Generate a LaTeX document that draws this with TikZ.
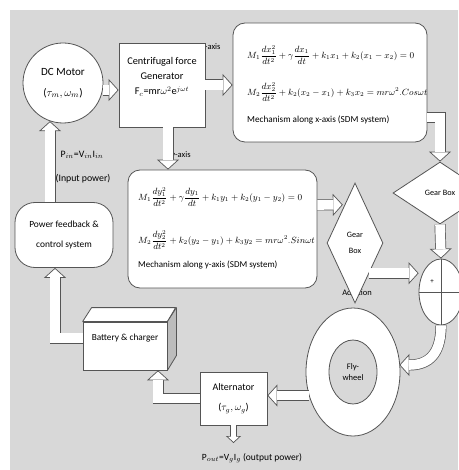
\documentclass[tikz,border=0pt]{standalone}
\usepackage{amsmath}
\usepackage{fontspec}
\setmainfont{Carlito}
\usetikzlibrary{arrows.meta,positioning,shapes.geometric,calc}
\definecolor{panel}{RGB}{216,216,216}
\definecolor{edge}{RGB}{85,85,85}
\definecolor{side}{RGB}{188,188,188}
\tikzset{
  blk/.style={draw=edge,fill=white,line width=0.8pt},
  lbl/.style={font=\fontsize{8.5}{10}\selectfont,inner sep=1pt},
  eqs/.style={font=\fontsize{8.8}{11}\selectfont,anchor=west,inner sep=0pt},
  captxt/.style={font=\fontsize{9.2}{11}\selectfont,anchor=west,inner sep=0pt},
  flow/.style={draw=edge,line width=11pt,
    -{Triangle[width=22pt 0 0,length=10pt 0 0,line width=0.7pt 0 0,fill=white]},
    postaction={draw=white,line width=9.6pt,-,shorten >=9.3pt}},
  thinflow/.style={draw=edge,line width=7pt,
    -{Triangle[width=15pt 0 0,length=7pt 0 0,line width=0.7pt 0 0,fill=white]},
    postaction={draw=white,line width=5.6pt,-,shorten >=6.4pt}},
}
\begin{document}
\begin{tikzpicture}[x=1pt,y=-1pt,every node/.style={font=\fontsize{9}{11}\selectfont}]
  \useasboundingbox (0,0) rectangle (458,470);
  \fill[panel] (10,10) rectangle (458,470);
  % labels that sit partly under the blocks
  \node[lbl] (xlbl) at (211,47) {x-axis};
  \node[lbl] (ylbl) at (181,155) {y-axis};
  \node[lbl] (addlbl) at (357,293) {Addition};
  % drive side
  \node[blk,circle,minimum size=80pt,align=center,font=\fontsize{11}{13}\selectfont]
    (motor) at (63,83) {DC Motor\\[8pt]($\tau_m,\omega_m$)};
  \node[blk,minimum width=86pt,minimum height=84pt] (gen) at (162,85) {};
  \node[align=center,font=\fontsize{10.3}{15}\selectfont] (gentxt) at (162,77)
    {Centrifugal force\\Generator\\F$_c$=mr$\omega^2$e$^{j\omega t}$};
  \node[blk,rounded corners=12pt,minimum width=194pt,minimum height=119pt] (xmech) at (330,82.5) {};
  \node[eqs] (xeq1) at (247,55)
    {$M_1\dfrac{dx_1^2}{dt^2}+\gamma\dfrac{dx_1}{dt}+k_1x_1+k_2(x_1-x_2)=0$};
  \node[eqs] (xeq2) at (247,92)
    {$M_2\dfrac{dx_2^2}{dt^2}+k_2(x_2-x_1)+k_3x_2=mr\omega^2.Cos\omega t$};
  \node[captxt] (xcap) at (247,120) {Mechanism along x-axis (SDM system)};
  \node[blk,rounded corners=12pt,minimum width=189pt,minimum height=118pt] (ymech) at (222.5,229) {};
  \node[eqs] (yeq1) at (138,197)
    {$M_1\dfrac{dy_1^2}{dt^2}+\gamma\dfrac{dy_1}{dt}+k_1y_1+k_2(y_1-y_2)=0$};
  \node[eqs] (yeq2) at (138,240)
    {$M_2\dfrac{dy_2^2}{dt^2}+k_2(y_2-y_1)+k_3y_2=mr\omega^2.Sin\omega t$};
  \node[captxt,font=\fontsize{9}{11}\selectfont] (ycap) at (138,265) {Mechanism along y-axis (SDM system)};
  \node[blk,diamond,minimum width=94pt,minimum height=62pt,font=\fontsize{8.2}{10}\selectfont]
    (gbr) at (440,193) {Gear Box};
  \node[blk,diamond,minimum width=56pt,minimum height=120pt,align=center,font=\fontsize{8.2}{10}\selectfont]
    (gbl) at (355,243) {Gear\\[6pt]Box};
  \node[blk,ellipse,minimum width=44pt,minimum height=66pt] (sum) at (441,292) {};
  \draw[edge,line width=0.8pt] (sum.west) -- (sum.east) (sum.north) -- (sum.south);
  \node[font=\fontsize{7}{8}\selectfont,inner sep=0pt] (plus) at (432,282) {+};
  % storage side
  \node[blk,ellipse,minimum width=94pt,minimum height=128pt] (fly) at (353,372) {};
  \node[draw=edge,fill=panel,line width=0.8pt,ellipse,minimum width=48pt,minimum height=64pt,
    align=center,font=\fontsize{8.5}{11}\selectfont] (hub) at (353,372) {Fly-\\wheel};
  \node[blk,minimum width=67pt,minimum height=53pt,align=center,font=\fontsize{10}{20}\selectfont]
    (alt) at (233.5,398.5) {Alternator\\($\tau_g,\omega_g$)};
  \node[blk,minimum width=84pt,minimum height=48pt,text depth=18pt,font=\fontsize{9.3}{11}\selectfont]
    (bat) at (125,346) {Battery \& charger};
  \filldraw[fill=white,draw=edge,line width=0.8pt,line join=round]
    (bat.north west) -- ++(9,-14) -- ++(84,0) -- (bat.north east) -- cycle;
  \filldraw[fill=side,draw=edge,line width=0.8pt,line join=round]
    (bat.north east) -- ++(9,-14) -- ++(0,48) -- (bat.south east) -- cycle;
  \node[blk,rounded corners=20pt,minimum width=98pt,minimum height=65pt,align=center,
    font=\fontsize{9.4}{20}\selectfont] (pwr) at (64,235) {Power feedback \&\\control system};
  % power labels
  \node[lbl,font=\fontsize{9.8}{11}\selectfont] (pin) at (82,155) {P$_{in}$=V$_{in}$I$_{in}$};
  \node[lbl,font=\fontsize{9.8}{11}\selectfont] (pinlbl) at (83,179) {(Input power)};
  \node[lbl,font=\fontsize{9.5}{10}\selectfont] (pout) at (252,458) {P$_{out}$=V$_g$I$_g$ (output power)};
  \coordinate (pinbase) at ($(pwr.north)+(-14,0)$);
  \coordinate (gdown) at ($(gen.south)+(6,0)$);
  \coordinate (poutend) at (233.5,443);
  % flow arrows
  \draw[flow] (motor.-10) -- (motor.-10 -| gen.west);
  \draw[flow] (gen.east) -- (gen.east -| xmech.west);
  \draw[flow] (gdown) -- (gdown |- ymech.north);
  \draw[flow] ($(xmech.east)+(0,35)$) -| (gbr.north);
  \draw[flow] ($(ymech.east)+(0,-24)$) -- ($(gbl.north west)+(2,-8)$);
  \draw[flow] (gbr.south) -- (sum.north);
  \draw[flow] (gbl.south east) -- (gbl.south east -| sum.west);
  \draw[flow] (sum.south) .. controls (441,358) and (425,365) .. ($(fly.east)+(-1,-7)$);
  \draw[flow] (fly.208) -- (fly.208 -| alt.east);
  \draw[flow] (alt.west) -| ($(bat.south)+(33,0)$);
  \draw[flow] ($(bat.west)+(0,-8)$) -| ($(pwr.south)+(-9,0)$);
  \draw[flow] (pinbase) -- (pinbase |- motor.251);
  \draw[thinflow] (alt.south) -- (poutend);
\end{tikzpicture}
\end{document}
